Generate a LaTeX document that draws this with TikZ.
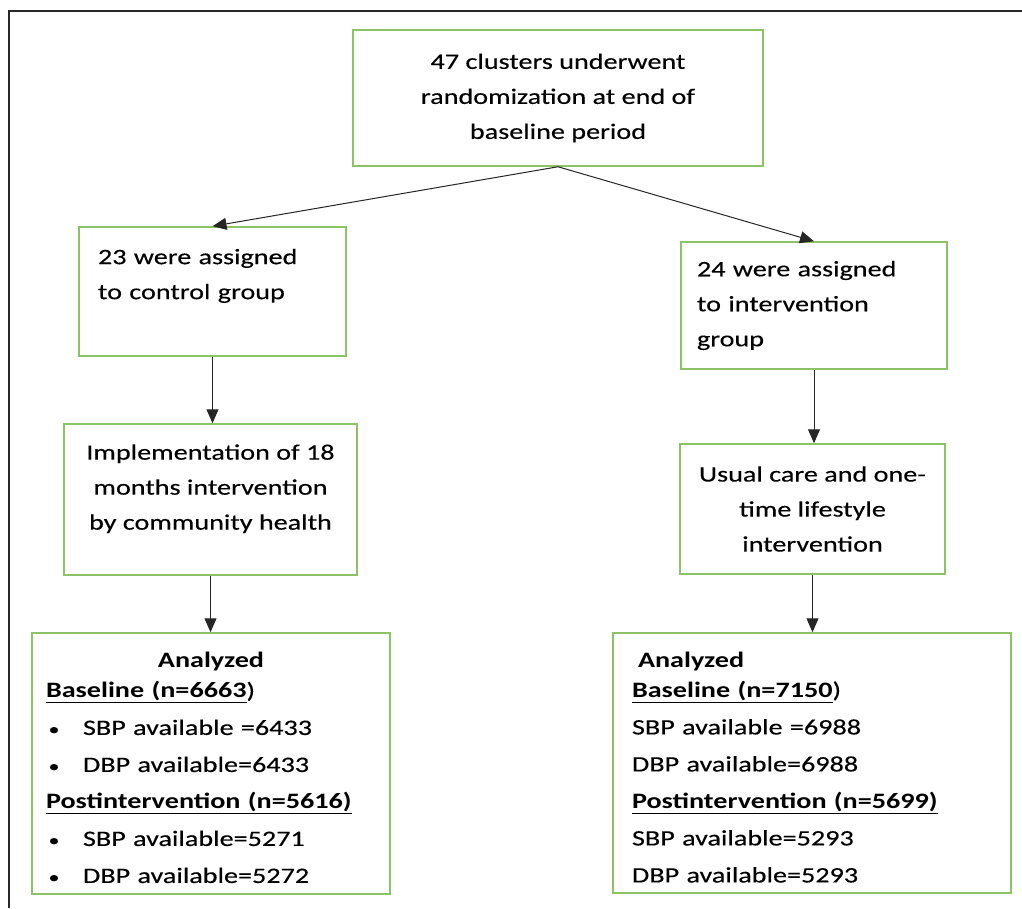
\documentclass[tikz,border=0pt]{standalone}
\usepackage{fontspec}
\setmainfont{Carlito}[FakeStretch=1.28, UprightFeatures={FakeBold=0.3}]
\usepackage{tikz}
\usetikzlibrary{arrows.meta,positioning,calc}
\definecolor{boxgreen}{RGB}{140,195,100}
\definecolor{framegray}{RGB}{40,40,40}
\newcommand{\smallbul}{\makebox[16pt]{\fontsize{17}{17}\selectfont\textbullet}\hspace{21pt}}

\tikzset{
  box/.style={draw=boxgreen, line width=1.5pt, rectangle, align=center,
    font=\fontsize{22}{35}\selectfont},
  leftbox/.style={box, align=left, inner ysep=0pt},
  arr/.style={-{Triangle[length=14pt,width=12pt]}, line width=1pt, draw=black!85}
}

\begin{document}
\begin{tikzpicture}[x=1pt,y=-1pt]
  \useasboundingbox (0,0) rectangle (1022,908);
  \draw[framegray, line width=2pt] (9,908) -- (9,11) -- (1022,11);

  % boxes
  \node[box, minimum width=410pt, minimum height=136pt] (rand) at (558,98)
    {47 clusters underwent\\randomization at end of\\baseline period};
  \node[leftbox, inner xsep=19pt, text width=229pt, minimum height=129pt] (ctrl) at (212.5,291.5)
    {23 were assigned\\to control group\\ \mbox{}};
  \node[leftbox, inner xsep=16pt, text width=234pt, minimum height=127pt] (intv) at (814,305.5)
    {24 were assigned\\to intervention\\group};
  \node[box, minimum width=293pt, minimum height=151pt] (impl) at (210.5,499.5)
    {Implementation of 18\\months intervention\\by community health\\[-10pt]\mbox{}};
  \node[box, minimum width=265pt, minimum height=130pt] (usual) at (812.5,509)
    {Usual care and one-\\time lifestyle\\intervention};

  \node[leftbox, font=\fontsize{22}{37}\selectfont, inner xsep=14pt, text width=330pt,
        minimum height=261pt] (anlc) at (211,763.5)
    {\mbox{}\\[-13pt]
     \makebox[\linewidth]{\textbf{Analyzed}}\\[-7pt]
     \textbf{\underline{Baseline (n=6663}})\\
     \smallbul SBP available =6433\\
     \smallbul DBP available=6433\\
     \textbf{\underline{Postintervention (n=5616)}}\\
     \smallbul SBP available=5271\\
     \smallbul DBP available=5272};
  \node[leftbox, font=\fontsize{22}{37}\selectfont, inner xsep=19pt, text width=360pt,
        minimum height=260pt] (anli) at (812,763)
    {\mbox{}\\[-13pt]
     \hspace*{6pt}\textbf{Analyzed}\\[-7pt]
     \textbf{\underline{Baseline (n=7150}})\\
     SBP available =6988\\
     DBP available=6988\\
     \textbf{\underline{Postintervention (n=5699)}}\\
     SBP available=5293\\
     DBP available=5293};

  % connectors
  \draw[arr] (rand.south) -- (ctrl.north);
  \draw[arr] (rand.south) -- (intv.north);
  \draw[arr] (ctrl.south) -- (ctrl.south |- impl.north);
  \draw[arr] (impl.south) -- (impl.south |- anlc.north);
  \draw[arr] (intv.south) -- (intv.south |- usual.north);
  \draw[arr] (usual.south) -- (usual.south |- anli.north);
\end{tikzpicture}
\end{document}
